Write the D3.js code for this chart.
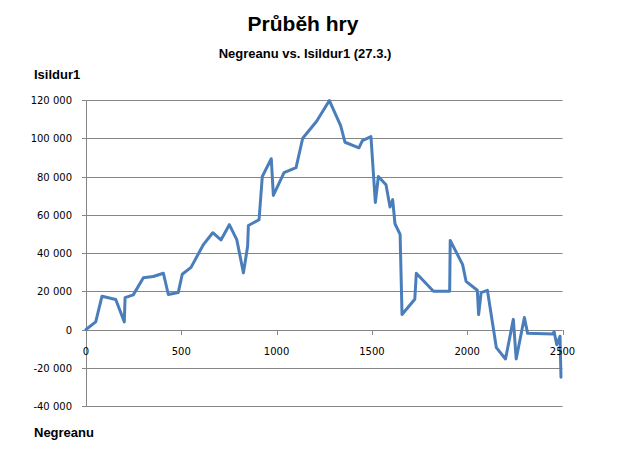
<!DOCTYPE html>
<html>
<head>
<meta charset="utf-8">
<script src="https://cdn.jsdelivr.net/npm/d3@7"></script>
<style>
  html, body { margin: 0; padding: 0; background: #fff; }
  svg { display: block; }
</style>
</head>
<body>
<svg id="chart" width="628" height="451"></svg>
<script>
// ---- data ----
const title = "Průběh hry";
const subtitle = "Negreanu vs. Isildur1 (27.3.)";
const yAxisTitle = "Isildur1";
const xAxisTitle = "Negreanu";

const hands = [0, 51, 84, 156, 201, 205, 248, 301, 353, 406, 432, 484, 505, 551, 616, 665, 708, 752, 791, 826, 848, 852, 908, 925, 972, 983, 1039, 1102, 1137, 1210, 1277, 1336, 1359, 1432, 1450, 1495, 1518, 1534, 1574, 1595, 1609, 1621, 1648, 1658, 1725, 1733, 1823, 1908, 1911, 1976, 1994, 2053, 2060, 2073, 2106, 2153, 2201, 2242, 2257, 2300, 2317, 2449, 2456, 2470, 2487, 2492];
const balance = [0, 4000, 17400, 15700, 4000, 16700, 18100, 27100, 27700, 29400, 18300, 19300, 28900, 32500, 44400, 50600, 46800, 54800, 47000, 29600, 43500, 54400, 57400, 80000, 89300, 70100, 82000, 84600, 100000, 108900, 119700, 106600, 97900, 95000, 98800, 100900, 66400, 80000, 75700, 64000, 67900, 55300, 49700, 7800, 15800, 29400, 20000, 20000, 46600, 33900, 25200, 20500, 7800, 19300, 20500, -9500, -15400, 5300, -15400, 6300, -2000, -2300, -1200, -8000, -3500, -25000];

const xTicks = [0, 500, 1000, 1500, 2000, 2500];
const yTicks = [-40000, -20000, 0, 20000, 40000, 60000, 80000, 100000, 120000];

// ---- layout ----
const svg = d3.select("#chart");
const plotLeft = 86, plotRight = 562.5, plotTop = 100, plotBottom = 406;
const x = d3.scaleLinear().domain([0, 2500]).range([plotLeft, plotRight]);
const y = d3.scaleLinear().domain([-40000, 120000]).range([plotBottom, plotTop]);
const gridColor = "#868686";
const fmt = v => d3.format(",")(v).replace(/,/g, " ").replace("−", "-");

// gridlines
svg.append("g").selectAll("line").data(yTicks).join("line")
  .attr("x1", plotLeft - 4).attr("x2", plotRight)
  .attr("y1", d => Math.round(y(d)) + 0.5).attr("y2", d => Math.round(y(d)) + 0.5)
  .attr("stroke", gridColor).attr("stroke-width", 1);

// y axis line
svg.append("line")
  .attr("x1", plotLeft + 0.5).attr("x2", plotLeft + 0.5)
  .attr("y1", plotTop).attr("y2", plotBottom + 0.5)
  .attr("stroke", gridColor).attr("stroke-width", 1);

// x ticks on zero line
svg.append("g").selectAll("line").data(xTicks.slice(1)).join("line")
  .attr("x1", d => Math.round(x(d)) + 0.5).attr("x2", d => Math.round(x(d)) + 0.5)
  .attr("y1", Math.round(y(0))).attr("y2", Math.round(y(0)) + 5)
  .attr("stroke", gridColor).attr("stroke-width", 1);

// y tick labels
svg.append("g").selectAll("text").data(yTicks).join("text")
  .attr("x", 72).attr("y", d => y(d) + 4)
  .attr("text-anchor", "end")
  .attr("font-family", "DejaVu Sans, sans-serif").attr("font-size", 10)
  .attr("fill", "#000")
  .text(d => fmt(d));

// line
const line = d3.line().x((d, i) => x(hands[i])).y((d, i) => y(balance[i]));
svg.append("path")
  .datum(balance)
  .attr("d", line)
  .attr("fill", "none")
  .attr("stroke", "#4a7ebb")
  .attr("stroke-width", 3)
  .attr("stroke-linejoin", "round")
  .attr("stroke-linecap", "round");

// x tick labels
svg.append("g").selectAll("text").data(xTicks).join("text")
  .attr("x", d => x(d)).attr("y", y(0) + 25)
  .attr("text-anchor", "middle")
  .attr("font-family", "DejaVu Sans, sans-serif").attr("font-size", 10)
  .attr("fill", "#000")
  .text(d => d);

// titles
svg.append("text").attr("x", 303).attr("y", 31)
  .attr("text-anchor", "middle")
  .attr("font-family", "Liberation Sans, Arial, sans-serif").attr("font-weight", "bold").attr("font-size", 21)
  .text(title);
svg.append("text").attr("x", 305).attr("y", 58)
  .attr("text-anchor", "middle")
  .attr("font-family", "Liberation Sans, Arial, sans-serif").attr("font-weight", "bold").attr("font-size", 13)
  .text(subtitle);
svg.append("text").attr("x", 34).attr("y", 79)
  .attr("font-family", "Liberation Sans, Arial, sans-serif").attr("font-weight", "bold").attr("font-size", 13)
  .text(yAxisTitle);
svg.append("text").attr("x", 34).attr("y", 437)
  .attr("font-family", "Liberation Sans, Arial, sans-serif").attr("font-weight", "bold").attr("font-size", 13)
  .text(xAxisTitle);
</script>
</body>
</html>
